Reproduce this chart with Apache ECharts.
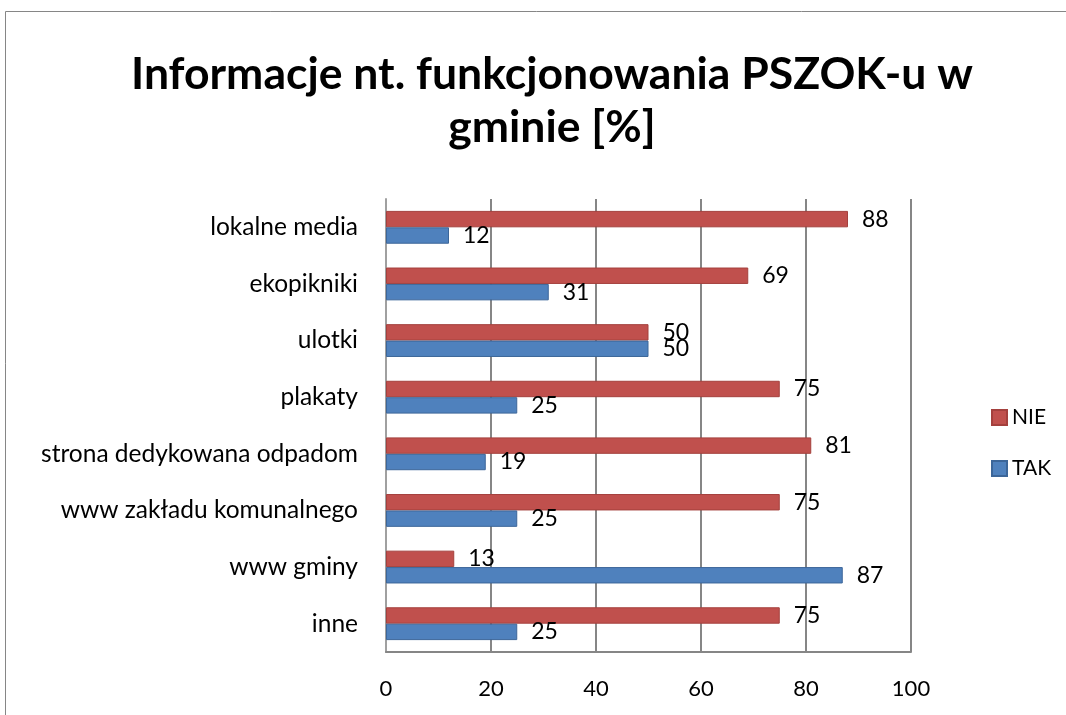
<!DOCTYPE html>
<html>
<head>
<meta charset="utf-8">
<script src="https://cdn.jsdelivr.net/npm/echarts@6/dist/echarts.min.js"></script>
<style>
  html, body { margin: 0; padding: 0; background: #fff; }
  #chart { width: 1066px; height: 715px; }
</style>
</head>
<body>
<div id="chart"></div>
<script>
// kategorie od góry
const categories = ['lokalne media', 'ekopikniki', 'ulotki', 'plakaty', 'strona dedykowana odpadom', 'www zakładu komunalnego', 'www gminy', 'inne'];
const nieValues = [88, 69, 50, 75, 81, 75, 13, 75];
const takValues = [12, 31, 50, 25, 19, 25, 87, 25];
const xTicks = [0, 20, 40, 60, 80, 100];

const font = 'Lato, "Open Sans", sans-serif';

const chart = echarts.init(document.getElementById('chart'));

const labelStyle = {
  show: true,
  position: 'right',
  distance: 14,
  color: '#000',
  fontSize: 23,
  fontFamily: font
};

chart.setOption({
  backgroundColor: '#fff',
  animation: false,
  title: {
    text: 'Informacje nt. funkcjonowania PSZOK-u w\ngminie [%]',
    left: 547,
    top: 43,
    textAlign: 'center',
    textStyle: { fontSize: 44.5, fontWeight: 'bold', color: '#000', fontFamily: font, lineHeight: 53 }
  },
  graphic: [
    {
      type: 'rect',
      shape: { x: 5.5, y: 11.5, width: 1200, height: 900 },
      style: { fill: 'none', stroke: '#868686', lineWidth: 1 },
      silent: true
    }
  ],
  legend: {
    data: ['NIE', 'TAK'],
    orient: 'vertical',
    left: 986,
    top: 402,
    itemWidth: 15,
    itemHeight: 15,
    itemGap: 30,
    icon: 'rect',
    textStyle: { fontSize: 21, color: '#000', fontFamily: font }
  },
  grid: { left: 386, right: 155, top: 199, bottom: 63 },
  xAxis: {
    type: 'value',
    min: 0,
    max: 100,
    interval: 20,
    axisLine: { show: true, lineStyle: { color: '#868686', width: 2 } },
    axisTick: { show: false },
    axisLabel: {
      margin: 26,
      color: '#000',
      fontSize: 22,
      fontFamily: font,
      formatter: v => (xTicks.includes(v) ? String(v) : '')
    },
    splitLine: { show: true, lineStyle: { color: '#868686', width: 2 } }
  },
  yAxis: {
    type: 'category',
    data: categories,
    inverse: true,
    axisLine: { show: true, lineStyle: { color: '#a0a0a0', width: 2 } },
    axisTick: { show: false },
    axisLabel: { margin: 28, color: '#000', fontSize: 24.5, fontFamily: font }
  },
  series: [
    {
      name: 'NIE',
      type: 'bar',
      data: nieValues,
      barGap: '0%',
      barCategoryGap: '42%',
      itemStyle: { color: '#C0504D', borderColor: '#A4403D', borderWidth: 1 },
      label: labelStyle
    },
    {
      name: 'TAK',
      type: 'bar',
      data: takValues,
      itemStyle: { color: '#4F81BD', borderColor: '#3C6699', borderWidth: 1 },
      label: labelStyle
    }
  ]
});

window.addEventListener('resize', () => {
  chart.resize();
});
</script>
</body>
</html>
